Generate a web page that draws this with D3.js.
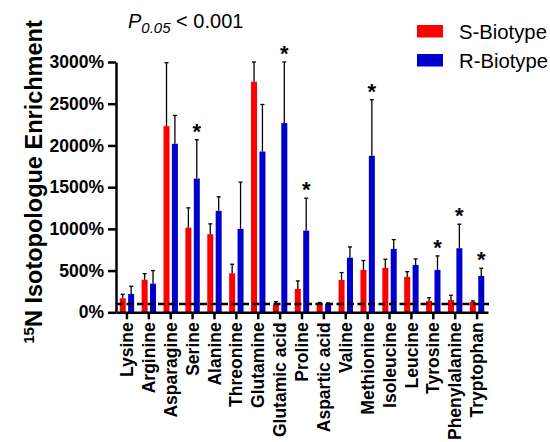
<!DOCTYPE html>
<html>
<head>
<meta charset="utf-8">
<script src="https://cdn.jsdelivr.net/npm/d3@7"></script>
<style>
  body { margin: 0; background: #fff; }
  svg { font-family: "Liberation Sans", Arial, sans-serif; }
</style>
</head>
<body>
<div id="vis"></div>
<script>
const FRAME_WIDTH = 550;
const FRAME_HEIGHT = 442;

// amino acids on the x axis
const categories = ["Lysine", "Arginine", "Asparagine", "Serine", "Alanine", "Threonine",
  "Glutamine", "Glutamic acid", "Proline", "Aspartic acid", "Valine", "Methionine",
  "Isoleucine", "Leucine", "Tyrosine", "Phenylalanine", "Tryptophan"];

// means (%) and upper error bar ends (%)
const sValues = [168, 391, 2232, 1015, 936, 468, 2764, 90, 280, 110, 388, 508, 532, 424, 136, 148, 124];
const sErrTop = [216, 463, 2992, 1252, 1060, 576, 3000, 127, 376, 118, 476, 620, 636, 487, 175, 204, 136];
const rValues = [220, 343, 2020, 1603, 1216, 1000, 1927, 2268, 979, 105, 655, 1876, 760, 568, 508, 768, 436];
const rErrTop = [312, 500, 2360, 2068, 1384, 1560, 2491, 3000, 1368, 112, 784, 2548, 871, 640, 676, 1056, 528];
const significant = ["Serine", "Glutamic acid", "Proline", "Methionine", "Tyrosine", "Phenylalanine", "Tryptophan"];

const yTicks = [0, 500, 1000, 1500, 2000, 2500, 3000];
const baseline = 100;

const RED = "#ff0000";
const BLUE = "#0000cc";

const svg = d3.select("#vis")
  .append("svg")
    .attr("width", FRAME_WIDTH)
    .attr("height", FRAME_HEIGHT);

const X_SCALE = d3.scaleBand()
  .domain(categories)
  .range([116, 488])
  .padding(0);

const Y_SCALE = d3.scaleLinear()
  .domain([0, 3000])
  .range([312.3, 62]);

const BAR_W = 6;
const OFF = 4.2;

const cx = (d) => X_SCALE(d) + X_SCALE.bandwidth() / 2;

// bars
const groups = [
  {vals: sValues, err: sErrTop, color: RED, dx: -OFF},
  {vals: rValues, err: rErrTop, color: BLUE, dx: OFF}
];

groups.forEach((g) => {
  svg.selectAll(null)
    .data(categories)
    .enter()
    .append("rect")
      .attr("x", (d) => cx(d) + g.dx - BAR_W / 2)
      .attr("y", (d, i) => Y_SCALE(g.vals[i]))
      .attr("width", BAR_W)
      .attr("height", (d, i) => Y_SCALE(0) - Y_SCALE(g.vals[i]))
      .attr("fill", g.color);

  // upper error bars
  svg.selectAll(null)
    .data(categories)
    .enter()
    .append("line")
      .attr("x1", (d) => cx(d) + g.dx)
      .attr("x2", (d) => cx(d) + g.dx)
      .attr("y1", (d, i) => Y_SCALE(g.vals[i]))
      .attr("y2", (d, i) => Y_SCALE(g.err[i]))
      .attr("stroke", "#000")
      .attr("stroke-width", 1.3);

  svg.selectAll(null)
    .data(categories)
    .enter()
    .append("line")
      .attr("x1", (d) => cx(d) + g.dx - 2)
      .attr("x2", (d) => cx(d) + g.dx + 2)
      .attr("y1", (d, i) => Y_SCALE(g.err[i]))
      .attr("y2", (d, i) => Y_SCALE(g.err[i]))
      .attr("stroke", "#000")
      .attr("stroke-width", 1.3);
});

// stars over R-biotype
svg.selectAll(null)
  .data(significant)
  .enter()
  .append("text")
    .attr("x", (d) => cx(d) + OFF)
    .attr("y", (d) => Y_SCALE(rErrTop[categories.indexOf(d)]) - 1)
    .attr("text-anchor", "middle")
    .attr("font-size", "22px")
    .attr("font-weight", "bold")
    .text("*");

// dashed 100% line
svg.append("line")
  .attr("x1", 116)
  .attr("x2", 489)
  .attr("y1", Y_SCALE(baseline))
  .attr("y2", Y_SCALE(baseline))
  .attr("stroke", "#000")
  .attr("stroke-width", 2.5)
  .attr("stroke-dasharray", "7,3.5");

// y axis
const yAxis = svg.append("g")
  .attr("transform", "translate(116,0)")
  .call(d3.axisLeft(Y_SCALE).tickValues(yTicks).tickSize(8).tickSizeOuter(0)
    .tickFormat((d) => d + "%"));
yAxis.select(".domain").attr("stroke-width", 2.5);
yAxis.selectAll(".tick line").attr("stroke-width", 2.5);
yAxis.selectAll(".tick text")
  .attr("font-family", "Liberation Sans, Arial, sans-serif")
  .attr("font-size", "17.5px")
  .attr("font-weight", "bold")
  .attr("fill", "#000")
  .attr("dx", "-1px");

// x axis
const xAxis = svg.append("g")
  .attr("transform", "translate(0," + Y_SCALE(0) + ")")
  .call(d3.axisBottom(X_SCALE).tickSize(7).tickSizeOuter(0));
xAxis.select(".domain").attr("stroke-width", 2.5);
xAxis.selectAll(".tick line").attr("stroke-width", 2.5);
xAxis.selectAll(".tick text")
  .attr("font-family", "Liberation Sans, Arial, sans-serif")
  .attr("font-size", "17.5px")
  .attr("font-weight", "bold")
  .attr("fill", "#000")
  .attr("transform", "rotate(-90)")
  .attr("text-anchor", "end")
  .attr("x", -10)
  .attr("y", 0)
  .attr("dy", "0.35em");

// y axis title
const yTitle = svg.append("text")
  .attr("transform", "translate(42,182) rotate(-90)")
  .attr("text-anchor", "middle")
  .attr("font-size", "23.5px")
  .attr("font-weight", "bold");
yTitle.append("tspan").attr("font-size", "15px").attr("dy", "-8").text("15");
yTitle.append("tspan").attr("dy", "8").text("N Isotopologue Enrichment");

// p-value note
const pNote = svg.append("text")
  .attr("x", 128)
  .attr("y", 28)
  .attr("font-size", "20px");
pNote.append("tspan").attr("font-style", "italic").text("P");
pNote.append("tspan").attr("font-style", "italic").attr("font-size", "15px").attr("dy", "5").text("0.05");
pNote.append("tspan").attr("dy", "-5").text(" < 0.001");

// legend
const legend = [{name: "S-Biotype", color: RED}, {name: "R-Biotype", color: BLUE}];
legend.forEach((l, i) => {
  svg.append("rect")
    .attr("x", 417)
    .attr("y", 25 + i * 29)
    .attr("width", 26)
    .attr("height", 12.5)
    .attr("fill", l.color);
  svg.append("text")
    .attr("x", 459)
    .attr("y", 39 + i * 29)
    .attr("font-size", "20.3px")
    .text(l.name);
});
</script>
</body>
</html>
